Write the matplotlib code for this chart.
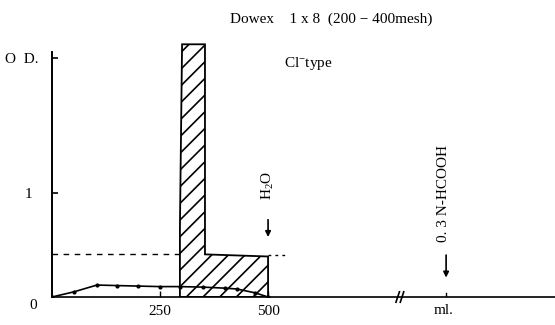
import matplotlib
matplotlib.use("Agg")
import matplotlib.pyplot as plt
from matplotlib.patches import Polygon

plt.rcParams["font.family"] = ["Liberation Serif", "DejaVu Serif"]
plt.rcParams["mathtext.default"] = "regular"
plt.rcParams["hatch.linewidth"] = 1.2

# Elution curve (ml, O.D.)
curve_ml = [0, 51, 104, 150, 200, 250, 296, 350, 400, 428, 470, 500]
curve_od = [0, 0.05, 0.115, 0.11, 0.105, 0.10, 0.10, 0.095, 0.085, 0.077, 0.04, 0]

# Hatched fraction: start, end of collection, width of the peak column
frac_start, frac_end, peak_end = 296, 500, 354
peak_od, plateau_od = 2.43, 0.41

# Reference O.D. level (dashed)
ref_od = 0.41
ref_end = 540

# Solvent changes
h2o_ml = 500
hcooh_ml = 912
break_ml = 806

xticks = [250, 500]
xtick_labels = ["250", "500"]

fig = plt.figure(figsize=(5.55, 3.25), dpi=100)
ax = fig.add_axes([52 / 555, 28 / 325, 503 / 555, 297 / 325])
ax.set_xlim(0, 1164)
ax.set_ylim(0, 2.856)
for s in ["top", "right"]:
    ax.spines[s].set_visible(False)
ax.spines["left"].set_bounds(0, 2.36)
ax.spines["left"].set_linewidth(1.4)
ax.spines["bottom"].set_linewidth(1.2)

ax.set_xticks(xticks)
ax.set_xticklabels(xtick_labels, fontsize=11)
ax.tick_params(axis="x", direction="in", length=4, width=1, pad=6)
ax.set_yticks([1, 2.30])
ax.set_yticklabels(["1", ""], fontsize=11)
ax.tick_params(axis="y", direction="in", length=4, width=1.2, pad=14)

# L-shaped hatched fraction
verts = [
    (frac_start, 0), (frac_end, 0), (frac_end, plateau_od * 0.95),
    (peak_end, plateau_od), (peak_end, peak_od), (frac_start + 5, peak_od),
    (frac_start, plateau_od * 1.6),
]
ax.add_patch(Polygon(verts, closed=True, facecolor="none", edgecolor="black",
                     hatch="//", linewidth=1.3))

# Dashed reference level
ax.plot([0, frac_start], [ref_od, ref_od], color="black", lw=1.0,
        linestyle=(0, (4, 4)))
ax.plot([frac_end, ref_end], [ref_od * 0.98, ref_od * 0.98], color="black",
        lw=1.0, linestyle=(0, (2, 3)))

# Elution curve with points
ax.plot(curve_ml, curve_od, color="black", lw=1.2, marker="o", markersize=2)

# H2O arrow
ax.annotate("", xy=(h2o_ml, 0.55), xytext=(h2o_ml, 0.77),
            arrowprops=dict(arrowstyle="-|>", color="black", lw=1.2,
                            mutation_scale=8))
ax.text(h2o_ml, 1.07, "H$_2$O", rotation=90, ha="center", va="center",
        fontsize=11)

# 0.3 N-HCOOH arrow
ax.annotate("", xy=(hcooh_ml, 0.16), xytext=(hcooh_ml, 0.43),
            arrowprops=dict(arrowstyle="-|>", color="black", lw=1.2,
                            mutation_scale=8))
ax.text(hcooh_ml - 7, 1.0, "0. 3 N-HCOOH", rotation=90, ha="center",
        va="center", fontsize=11)
ax.plot([hcooh_ml, hcooh_ml], [0, 0.04], color="black", lw=1)

# axis break
for dx in (-6, 4):
    ax.plot([break_ml + dx - 4, break_ml + dx + 4], [-0.05, 0.05],
            color="black", lw=1.2, clip_on=False)

# labels
ax.text(hcooh_ml - 6, -0.13, "ml.", ha="center", va="center", fontsize=11)
ax.text(-44, -0.085, "0", ha="center", va="center", fontsize=11)
ax.text(-69, 2.28, "O  D.", ha="center", va="center", fontsize=11)
ax.text(646, 2.67, "Dowex    1 x 8  (200 \u2212 400mesh)", ha="center",
        va="center", fontsize=11, clip_on=False)
ax.text(593, 2.25, "Cl$^{-}$type", ha="center", va="center", fontsize=11)

fig.savefig("out.png", dpi=100)
